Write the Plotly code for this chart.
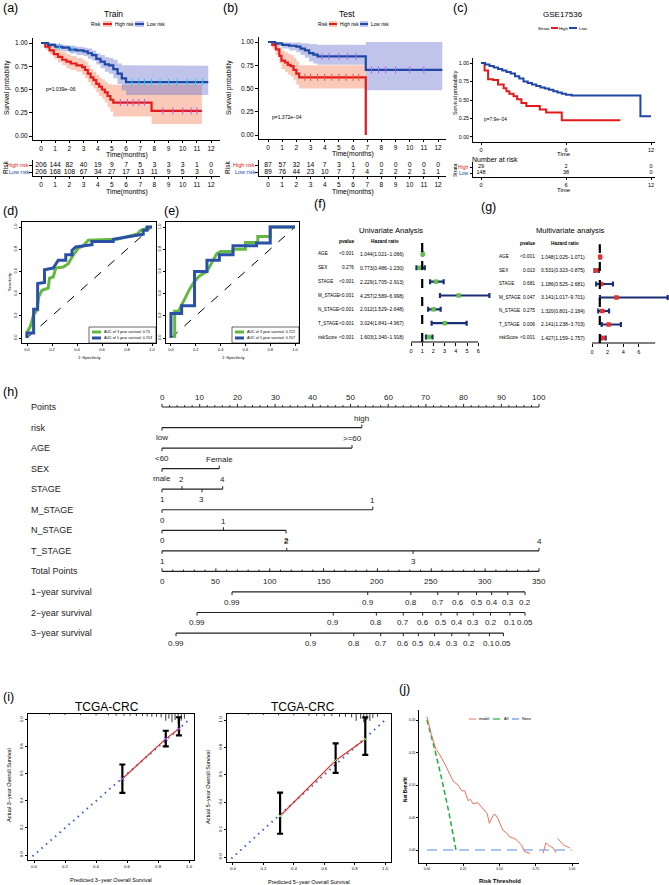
import plotly.graph_objects as go

W, H = 669, 885
FONT = "Liberation Sans, Arial, Helvetica, sans-serif"
RED = "#E41A1C"
BLUE = "#1F48A6"
RED_CI = "rgba(243,135,95,0.45)"
BLUE_CI = "rgba(105,115,205,0.42)"

# ====================== DATA ======================
months = list(range(13))

# (a) Train
train_high_t = [0, 0.3, 0.6, 0.9, 1.2, 1.5, 1.8, 2.1, 2.5, 2.9, 3.1, 3.3, 3.5, 3.7, 3.9, 4.1, 4.3, 4.5, 4.7, 4.9, 5.1, 7.8, 11.35]
train_high_s = [1, 0.96, 0.92, 0.88, 0.85, 0.82, 0.80, 0.78, 0.76, 0.74, 0.71, 0.67, 0.63, 0.60, 0.56, 0.53, 0.50, 0.47, 0.43, 0.39, 0.36, 0.27, 0.27]
train_high_up = [1, 1, 0.99, 0.96, 0.93, 0.90, 0.88, 0.86, 0.84, 0.82, 0.80, 0.76, 0.72, 0.69, 0.66, 0.63, 0.61, 0.58, 0.56, 0.55, 0.55, 0.55, 0.55]
train_high_lo = [1, 0.93, 0.88, 0.83, 0.79, 0.76, 0.73, 0.71, 0.69, 0.66, 0.62, 0.58, 0.54, 0.51, 0.47, 0.43, 0.40, 0.36, 0.31, 0.26, 0.21, 0.13, 0.13]
train_high_cens = [5.6, 6.1, 6.5, 6.9, 7.3, 8.6, 9.3, 10.0, 10.6, 11.0]
train_low_t = [0, 0.5, 1, 1.5, 2, 2.5, 3, 3.3, 3.6, 3.9, 4.2, 4.5, 4.8, 5.1, 5.4, 5.7, 6.0, 11.8]
train_low_s = [1, 0.98, 0.96, 0.95, 0.93, 0.92, 0.91, 0.89, 0.87, 0.83, 0.80, 0.77, 0.76, 0.72, 0.67, 0.62, 0.58, 0.58]
train_low_up = [1, 1, 0.99, 0.98, 0.97, 0.96, 0.95, 0.94, 0.92, 0.89, 0.87, 0.85, 0.84, 0.82, 0.78, 0.76, 0.755, 0.755]
train_low_lo = [1, 0.96, 0.93, 0.91, 0.89, 0.87, 0.86, 0.83, 0.81, 0.77, 0.73, 0.69, 0.67, 0.62, 0.56, 0.49, 0.44, 0.44]
train_low_cens = [1.3, 2.2, 6.4, 6.9, 7.3, 7.8, 8.4, 9.0, 9.6, 10.3, 10.9, 11.4]
train_high_n = [206, 144, 82, 40, 19, 9, 7, 5, 3, 3, 3, 1, 0]
train_low_n = [206, 168, 108, 67, 34, 27, 17, 13, 11, 9, 5, 3, 0]

# (b) Test
test_high_t = [0, 0.3, 0.55, 0.8, 0.95, 1.2, 1.4, 1.6, 1.8, 2.0, 2.2, 6.9]
test_high_s = [1, 0.97, 0.92, 0.85, 0.80, 0.78, 0.755, 0.74, 0.70, 0.66, 0.62, 0.0]
test_high_up = [1, 1, 0.99, 0.95, 0.91, 0.89, 0.87, 0.86, 0.83, 0.79, 0.75, 0.75]
test_high_lo = [1, 0.93, 0.86, 0.77, 0.71, 0.68, 0.65, 0.63, 0.59, 0.54, 0.50, 0.50]
test_high_cens = [2.6, 3.0, 3.5, 4.0, 4.5, 5.0, 5.5, 6.0, 6.4]
test_low_t = [0, 0.5, 1.0, 1.5, 2.0, 2.3, 2.6, 2.9, 3.2, 3.5, 6.9, 12.3]
test_low_s = [1, 0.985, 0.97, 0.96, 0.95, 0.93, 0.91, 0.88, 0.865, 0.845, 0.70, 0.70]
test_low_up = [1, 1, 1, 1, 0.995, 0.99, 0.985, 0.98, 0.975, 0.97, 1.0, 1.0]
test_low_lo = [1, 0.96, 0.93, 0.91, 0.89, 0.86, 0.83, 0.79, 0.77, 0.755, 0.48, 0.48]
test_low_cens = [3.8, 4.3, 5.0, 5.6, 6.2, 7.3, 7.8, 8.3, 9.0, 10.0, 11.0]
test_high_n = [87, 57, 32, 14, 7, 3, 1, 0, 0, 0, 0, 0, 0]
test_low_n = [89, 76, 44, 23, 10, 7, 7, 4, 2, 2, 2, 1, 1]

# (c) GSE17536
gse_high_t = [0, 0.25, 0.5, 0.85, 1.2, 1.6, 1.8, 2.0, 2.3, 2.55, 2.85, 3.2, 4.15, 4.6, 5.7, 9.83]
gse_high_s = [1, 0.90, 0.78, 0.77, 0.71, 0.66, 0.62, 0.585, 0.55, 0.51, 0.46, 0.42, 0.37, 0.33, 0.225, 0.225]
gse_low_t = [0, 0.3, 0.6, 0.9, 1.2, 1.5, 1.8, 2.1, 2.4, 2.7, 3.0, 3.3, 3.6, 3.9, 4.2, 4.5, 4.8, 5.1, 5.4, 5.7, 6.0, 6.4, 11.25, 12.0]
gse_low_s = [1, 0.98, 0.96, 0.94, 0.92, 0.90, 0.88, 0.86, 0.82, 0.79, 0.75, 0.73, 0.71, 0.69, 0.67, 0.655, 0.64, 0.62, 0.60, 0.585, 0.57, 0.56, 0.28, 0.28]
gse_times = [0, 6, 12]
gse_high_n = [29, 2, 0]
gse_low_n = [148, 38, 0]

# (d),(e) ROC
roc_d_3_fpr = [0, 0, 0.027, 0.053, 0.08, 0.093, 0.12, 0.17, 0.18, 0.21, 0.23, 0.29, 0.33, 0.36, 0.41, 0.45, 0.49, 0.72, 0.88, 0.91, 1.0]
roc_d_3_tpr = [0, 0.05, 0.105, 0.21, 0.25, 0.37, 0.43, 0.45, 0.54, 0.55, 0.63, 0.64, 0.67, 0.73, 0.81, 0.83, 0.88, 0.89, 0.935, 0.97, 1.0]
roc_d_5_fpr = [0, 0, 0.053, 0.053, 0.085, 0.085, 0.14, 0.14, 0.21, 0.25, 0.31, 0.31, 0.36, 0.36, 0.39, 0.52, 0.52, 0.69, 0.69, 0.8, 0.93, 0.93, 0.96, 0.96, 1.0]
roc_d_5_tpr = [0, 0.045, 0.045, 0.26, 0.26, 0.49, 0.50, 0.615, 0.63, 0.70, 0.70, 0.75, 0.75, 0.79, 0.82, 0.84, 0.87, 0.87, 0.89, 0.91, 0.935, 0.97, 0.97, 1.0, 1.0]
roc_e_3_fpr = [0.03, 0.03, 0.06, 0.08, 0.11, 0.15, 0.19, 0.23, 0.29, 0.37, 0.40, 0.50, 0.50, 0.60, 0.60, 0.70, 0.70, 0.80, 0.80, 1.0]
roc_e_3_tpr = [0, 0.24, 0.24, 0.28, 0.35, 0.44, 0.51, 0.56, 0.60, 0.76, 0.78, 0.78, 0.80, 0.80, 0.86, 0.86, 0.915, 0.915, 1.0, 1.0]
roc_e_5_fpr = [0, 0, 0.086, 0.086, 0.19, 0.19, 0.29, 0.29, 0.39, 0.39, 0.50, 0.50, 0.69, 0.69, 0.80, 0.80, 1.0]
roc_e_5_tpr = [0, 0.22, 0.22, 0.29, 0.29, 0.60, 0.60, 0.70, 0.70, 0.75, 0.75, 0.83, 0.83, 0.855, 0.855, 1.0, 1.0]
auc_d = ["0.73", "0.703"]
auc_e = ["0.722", "0.707"]

# (f),(g) Cox
cox_vars = ["AGE", "SEX", "STAGE", "M_STAGE", "N_STAGE", "T_STAGE", "riskScore"]
uni_p = ["<0.001", "0.276", "<0.001", "<0.001", "<0.001", "<0.001", "<0.001"]
uni_hr = [1.044, 0.773, 2.229, 4.257, 2.012, 3.024, 1.603]
uni_lo = [1.021, 0.486, 1.705, 2.589, 1.529, 1.841, 1.340]
uni_hi = [1.066, 1.230, 2.913, 6.998, 2.648, 4.967, 1.918]
multi_p = ["<0.001", "0.013", "0.681", "0.047", "0.275", "0.006", "<0.001"]
multi_hr = [1.048, 0.531, 1.186, 3.141, 1.320, 2.141, 1.427]
multi_lo = [1.025, 0.323, 0.525, 1.017, 0.801, 1.238, 1.159]
multi_hi = [1.071, 0.875, 2.681, 9.701, 2.184, 3.703, 1.757]

# (h) nomogram (positions in points / total points)
nomo_rows = ["Points", "risk", "AGE", "SEX", "STAGE", "M_STAGE", "N_STAGE", "T_STAGE",
             "Total Points", "1\u2212year survival", "2\u2212year survival", "3\u2212year survival"]
risk_pts, risk_lbl = [0, 53], ["low", "high"]
age_pts, age_lbl = [0, 50.4], ["<60", ">=60"]
sex_pts, sex_lbl = [0, 15.2], ["male", "Female"]
stage_pts, stage_lbl = [0, 5.3, 10.6, 16.1], ["1", "2", "3", "4"]
mstage_pts, mstage_lbl = [0, 55.9], ["0", "1"]
nstage_pts, nstage_lbl = [0, 16.3, 32.9], ["0", "1", "2"]
tstage_pts, tstage_lbl = [0, 33.1, 66.6, 100], ["1", "2", "3", "4"]
points_ticks = list(range(0, 101, 10))
total_ticks = list(range(0, 351, 50))
surv1_tp = [65, 191, 231, 256, 275, 292, 306, 321, 337]
surv1_lbl = ["0.99", "0.9", "0.8", "0.7", "0.6", "0.5", "0.4", "0.3", "0.2"]
surv2_tp = [32.5, 159, 199, 224, 242, 259, 274, 289, 305, 323, 337]
surv2_lbl = ["0.99", "0.9", "0.8", "0.7", "0.6", "0.5", "0.4", "0.3", "0.2", "0.1", "0.05"]
surv3_tp = [13, 138, 178, 203, 224, 238, 253, 269, 285, 304, 317]
surv3_lbl = ["0.99", "0.9", "0.8", "0.7", "0.6", "0.5", "0.4", "0.3", "0.2", "0.1", "0.05"]

# (i) calibration
cal3_pred = [0.57, 0.85, 0.935]
cal3_obs = [0.565, 0.86, 0.935]
cal3_lo = [0.46, 0.805, 0.885]
cal3_hi = [0.67, 0.92, 1.02]
cal3_rug_x = [0.10, 0.2, 0.3, 0.4, 0.48, 0.53, 0.58, 0.62, 0.66, 0.70, 0.73, 0.76, 0.79, 0.82, 0.85, 0.87, 0.89, 0.91, 0.93, 0.95, 0.97]
cal3_rug_h = [0.008, 0.008, 0.008, 0.01, 0.01, 0.012, 0.012, 0.012, 0.015, 0.015, 0.018, 0.02, 0.02, 0.025, 0.05, 0.035, 0.06, 0.045, 0.07, 0.05, 0.035]
cal5_pred = [0.31, 0.675, 0.87]
cal5_obs = [0.30, 0.705, 0.86]
cal5_lo = [0.17, 0.615, 0.745]
cal5_hi = [0.47, 0.83, 1.02]
cal5_rug_x = [0.1, 0.2, 0.3, 0.4, 0.5, 0.55, 0.6, 0.65, 0.7, 0.74, 0.78, 0.81, 0.84, 0.86, 0.88, 0.9, 0.92, 0.95]
cal5_rug_h = [0.008, 0.008, 0.01, 0.01, 0.012, 0.012, 0.015, 0.015, 0.02, 0.02, 0.025, 0.05, 0.035, 0.06, 0.045, 0.05, 0.03, 0.02]

# (j) decision curve
dca_thr = [0.0, 0.03, 0.062, 0.09, 0.124, 0.15, 0.18, 0.214, 0.239, 0.26, 0.283, 0.30, 0.317, 0.35, 0.375, 0.40, 0.415, 0.43, 0.455, 0.47, 0.49, 0.505, 0.524, 0.55, 0.57, 0.60, 0.62, 0.65, 0.676, 0.71,
           0.75, 0.80, 0.82, 0.835, 0.87, 0.89, 0.895, 0.90, 0.94, 0.985]
dca_model = [0.205, 0.178, 0.155, 0.146, 0.132, 0.121, 0.106, 0.100, 0.091, 0.091, 0.076, 0.078, 0.071, 0.073, 0.067, 0.061, 0.056, 0.041, 0.053, 0.055, 0.048, 0.040, 0.030, 0.026, 0.020, 0.018, 0.015, 0.008, -0.003, -0.005,
             None, -0.005, 0.011, 0.008, 0.003, -0.004, None, 0.018, 0.008, 0.003]
dca_all_thr = [0.0, 0.05, 0.10, 0.15, 0.20]
dca_all = [0.20, 0.158, 0.111, 0.059, 0.0]
dca_none_thr = [0.0, 1.0]
dca_none = [0.0, 0.0]

# ====================== HELPERS ======================
fig = go.Figure()
axes_layout = {}
annotations = []
shapes = []
n_ax = [0]


def add_axes(box, xr, yr, xkw=None, ykw=None):
    n_ax[0] += 1
    k = n_ax[0]
    sfx = "" if k == 1 else str(k)
    x0, y0, x1, y1 = box
    base = dict(showgrid=False, zeroline=False, fixedrange=True, showline=False,
                ticks="", showticklabels=False)
    xa = dict(base, domain=[x0 / W, x1 / W], range=xr, anchor="y" + sfx)
    ya = dict(base, domain=[1 - y1 / H, 1 - y0 / H], range=yr, anchor="x" + sfx)
    if xkw:
        xa.update(xkw)
    if ykw:
        ya.update(ykw)
    axes_layout["xaxis" + sfx] = xa
    axes_layout["yaxis" + sfx] = ya
    return "x" + sfx, "y" + sfx


def vis(tickvals, ticktext=None, size=6.5, ticklen=3, angle=None, mirror=False, lw=1, line=True):
    d = dict(showline=line, linecolor="black", linewidth=lw, ticks="outside", ticklen=ticklen,
             tickwidth=1, tickcolor="black", showticklabels=True, tickvals=tickvals,
             tickfont=dict(size=size, color="black", family=FONT))
    if ticktext is not None:
        d["ticktext"] = ticktext
    if angle is not None:
        d["tickangle"] = angle
    if mirror:
        d["mirror"] = True
    return d


def txt(x, y, s, size=7, xa="center", ya="middle", color="black", angle=0, xref="paper", yref="paper", bold=False):
    if xref == "paper":
        x = x / W
    if yref == "paper":
        y = 1 - y / H
    if bold:
        s = "<b>" + s + "</b>"
    annotations.append(dict(x=x, y=y, xref=xref, yref=yref, text=s, showarrow=False,
                            xanchor=xa, yanchor=ya, textangle=angle, borderpad=0,
                            font=dict(size=size, color=color, family=FONT)))


def pline(x0, y0, x1, y1, color="black", width=1, dash="solid"):
    shapes.append(dict(type="line", xref="paper", yref="paper", x0=x0 / W, x1=x1 / W,
                       y0=1 - y0 / H, y1=1 - y1 / H, line=dict(color=color, width=width, dash=dash)))


def prect(x0, y0, x1, y1, fill, line_color=None, lw=0):
    shapes.append(dict(type="rect", xref="paper", yref="paper", x0=x0 / W, x1=x1 / W,
                       y0=1 - y1 / H, y1=1 - y0 / H, fillcolor=fill,
                       line=dict(color=line_color or "rgba(0,0,0,0)", width=lw)))


def step_xy(t, s):
    xs, ys = [], []
    for i, (ti, si) in enumerate(zip(t, s)):
        if i:
            xs.append(ti)
            ys.append(s[i - 1])
        xs.append(ti)
        ys.append(si)
    return xs, ys


def step_at(t, s, x):
    v = s[0]
    for ti, si in zip(t, s):
        if ti <= x:
            v = si
    return v


def km(xa, ya, groups, width=2.2):
    for g in groups:
        if "up" in g:
            ux, uy = step_xy(g["t"], g["up"])
            lx, ly = step_xy(g["t"], g["lo"])
            fig.add_trace(go.Scatter(x=ux + lx[::-1], y=uy + ly[::-1], fill="toself", fillcolor=g["ci"],
                                     mode="lines", line=dict(width=0), xaxis=xa, yaxis=ya, hoverinfo="skip"))
    for g in groups:
        fig.add_trace(go.Scatter(x=g["t"], y=g["s"], mode="lines", line=dict(shape="hv", color=g["col"], width=width),
                                 xaxis=xa, yaxis=ya))
        if g.get("cens"):
            fig.add_trace(go.Scatter(x=g["cens"], y=[step_at(g["t"], g["s"], c) for c in g["cens"]], mode="markers",
                                     marker=dict(symbol="line-ns-open", size=5, line=dict(color=g["col"], width=1)),
                                     xaxis=xa, yaxis=ya))


yt_km = [0, 0.25, 0.5, 0.75, 1]
yt_km_txt = ["0.00", "0.25", "0.50", "0.75", "1.00"]
tbl_y = dict(showline=True, linecolor="black", linewidth=1, ticks="outside",
             ticklen=3, tickvals=[0, 1], tickcolor="black")

# ====================== (a) Train ======================
xa, ya = add_axes((33, 38, 220, 140), [-0.565, 12.63], [-0.043, 1.054],
                  vis(months, None, 6.5, 2), vis(yt_km, yt_km_txt, 6.5))
km(xa, ya, [dict(t=train_high_t, s=train_high_s, up=train_high_up, lo=train_high_lo, ci=RED_CI, col=RED, cens=train_high_cens),
            dict(t=train_low_t, s=train_low_s, up=train_low_up, lo=train_low_lo, ci=BLUE_CI, col=BLUE, cens=train_low_cens)])
txt(113, 14, "Train", 8.5)
txt(90, 24, "Risk", 4.8, xa="left")
prect(103, 21, 112, 27, RED_CI)
pline(103, 24, 112, 24, RED, 2)
txt(114, 24, "High risk", 4.8, xa="left")
prect(135, 21, 144, 27, BLUE_CI)
pline(135, 24, 144, 24, BLUE, 2)
txt(146, 24, "Low risk", 4.8, xa="left")
txt(45, 89, "p=1.039e\u221206", 5, xa="left")
txt(7, 88, "Survival probability", 6.5, angle=-90)
txt(127, 155, "Time(months)", 6.8)
xr_, yr_ = add_axes((33, 160, 220, 176), [-0.565, 12.63], [-0.571, 1.714],
                    vis(months, None, 6.5, 2), tbl_y)
fig.add_trace(go.Scatter(x=months, y=[1] * 13, mode="text", text=[str(v) for v in train_high_n],
                         textfont=dict(size=6.8, color="black", family=FONT), xaxis=xr_, yaxis=yr_))
fig.add_trace(go.Scatter(x=months, y=[0] * 13, mode="text", text=[str(v) for v in train_low_n],
                         textfont=dict(size=6.8, color="black", family=FONT), xaxis=xr_, yaxis=yr_))
txt(30, 165, "High risk", 5.5, xa="right", color=RED)
txt(30, 172, "Low risk", 5.5, xa="right", color=BLUE)
txt(5, 168, "Risk", 6.5, angle=-90)
txt(127, 192, "Time(months)", 6.8)

# ====================== (b) Test ======================
xb, yb = add_axes((259, 37, 446, 139), [-0.635, 12.56], [-0.043, 1.054],
                  vis(months, None, 6.5, 2), vis(yt_km, yt_km_txt, 6.5))
km(xb, yb, [dict(t=test_high_t, s=test_high_s, up=test_high_up, lo=test_high_lo, ci=RED_CI, col=RED, cens=test_high_cens),
            dict(t=test_low_t, s=test_low_s, up=test_low_up, lo=test_low_lo, ci=BLUE_CI, col=BLUE, cens=test_low_cens)])
txt(347, 14, "Test", 8.5)
txt(317, 24, "Risk", 4.8, xa="left")
prect(329, 21, 337, 27, RED_CI)
pline(329, 24, 337, 24, RED, 2)
txt(339, 24, "High risk", 4.8, xa="left")
prect(360, 21, 368, 27, BLUE_CI)
pline(360, 24, 368, 24, BLUE, 2)
txt(370, 24, "Low risk", 4.8, xa="left")
txt(271, 117, "p=1.372e\u221204", 5, xa="left")
txt(229, 88, "Survival probability", 6.5, angle=-90)
txt(353, 154, "Time(months)", 6.8)
xbr, ybr = add_axes((259, 160, 446, 176), [-0.635, 12.56], [-0.571, 1.714],
                    vis(months, None, 6.5, 2), tbl_y)
fig.add_trace(go.Scatter(x=months, y=[1] * 13, mode="text", text=[str(v) for v in test_high_n],
                         textfont=dict(size=6.8, color="black", family=FONT), xaxis=xbr, yaxis=ybr))
fig.add_trace(go.Scatter(x=months, y=[0] * 13, mode="text", text=[str(v) for v in test_low_n],
                         textfont=dict(size=6.8, color="black", family=FONT), xaxis=xbr, yaxis=ybr))
txt(256, 165, "High risk", 5.5, xa="right", color=RED)
txt(256, 172, "Low risk", 5.5, xa="right", color=BLUE)
txt(227, 168, "Risk", 6.5, angle=-90)
txt(353, 192, "Time(months)", 6.8)

# ====================== (c) GSE17536 ======================
xc, yc = add_axes((473, 58, 655, 142), [-0.565, 12.28], [-0.068, 1.068],
                  vis(gse_times, None, 5.5, 2), vis(yt_km, yt_km_txt, 5.2, 2))
km(xc, yc, [dict(t=gse_high_t, s=gse_high_s, col=RED), dict(t=gse_low_t, s=gse_low_s, col=BLUE)], width=2)
txt(563, 15, "GSE17536", 8)
txt(537, 28, "Strata", 4.3, xa="left")
pline(551, 28, 558, 28, RED, 2)
txt(558, 28, "High", 4.3, xa="left")
pline(569, 28, 577, 28, BLUE, 2)
txt(578, 28, "Low", 4.3, xa="left")
txt(483, 119, "p=7.9e\u221204", 4.8, xa="left")
txt(455, 93, "Survival probability", 5.3, angle=-90)
txt(564, 154, "Time", 6)
txt(471, 159, "Number at risk", 7, xa="left")
xcr, ycr = add_axes((473, 162, 655, 177), [-0.565, 12.28], [-0.667, 1.833],
                    vis(gse_times, None, 5.5, 2), dict(tbl_y, ticklen=2))
fig.add_trace(go.Scatter(x=gse_times, y=[1] * 3, mode="text", text=[str(v) for v in gse_high_n],
                         textfont=dict(size=5.5, color="black", family=FONT), xaxis=xcr, yaxis=ycr))
fig.add_trace(go.Scatter(x=gse_times, y=[0] * 3, mode="text", text=[str(v) for v in gse_low_n],
                         textfont=dict(size=5.5, color="black", family=FONT), xaxis=xcr, yaxis=ycr))
txt(470, 167, "High", 5, xa="right", color=RED)
txt(470, 172.5, "Low", 5, xa="right", color=BLUE)
txt(455, 170, "Strata", 5, angle=-90)
txt(564, 189.5, "Time", 6)

# ====================== (d),(e) ROC ======================
GREEN = "#63B93F"
ROCBLUE = "#2A50A8"
roc_t = [0, 0.2, 0.4, 0.6, 0.8, 1.0]
roc_tt = ["0.0", "0.2", "0.4", "0.6", "0.8", "1.0"]


def roc_panel(box, xr, curves, aucs, leg_box, lab_x):
    xa_, ya_ = add_axes(box, xr, [-0.045, 1.045],
                        vis(roc_t, roc_tt, 4, 2, mirror=True),
                        vis(roc_t, roc_tt, 4, 2, angle=-90, mirror=True))
    fig.add_trace(go.Scatter(x=[0, 1], y=[0, 1], mode="lines", line=dict(color="black", width=1, dash="dash"),
                             xaxis=xa_, yaxis=ya_))
    for (fx, fy), col in zip(curves, [GREEN, ROCBLUE]):
        fig.add_trace(go.Scatter(x=fx, y=fy, mode="lines", line=dict(color=col, width=3), xaxis=xa_, yaxis=ya_))
    lx0, ly0, lx1, ly1 = leg_box
    prect(lx0, ly0, lx1, ly1, "white", "black", 0.6)
    pline(lx0 + 3, ly0 + 5, lx0 + 12, ly0 + 5, GREEN, 3)
    pline(lx0 + 3, ly0 + 11, lx0 + 12, ly0 + 11, ROCBLUE, 3)
    txt(lx0 + 14, ly0 + 5, "AUC of 3 year survival: " + aucs[0], 3.7, xa="left")
    txt(lx0 + 14, ly0 + 11, "AUC of 5 year survival: " + aucs[1], 3.7, xa="left")
    txt(lab_x, 357, "1\u2212Specificity", 4)


roc_panel((22, 222, 156, 343), [-0.04, 1.032], [(roc_d_3_fpr, roc_d_3_tpr), (roc_d_5_fpr, roc_d_5_tpr)],
          auc_d, (89, 327, 156, 343), 89)
txt(9, 282, "Sensitivity", 4, angle=-90)
roc_panel((166, 222, 299, 343), [-0.04, 1.032], [(roc_e_3_fpr, roc_e_3_tpr), (roc_e_5_fpr, roc_e_5_tpr)],
          auc_e, (232, 327, 299, 343), 233)

# ====================== (f),(g) Forest ======================
NAVY = "#1C2E77"


def forest(box, xr, yr, hr, lo, hi, pv, col, tickvals, axis_end, names_x, p_x, hr_x, head_p, head_hr, title, title_xy):
    xa_, ya_ = add_axes(box, xr, yr,
                        dict(ticks="outside", ticklen=3, tickcolor="black", tickwidth=1, showticklabels=True,
                             tickvals=tickvals, tickfont=dict(size=5.5, color="black", family=FONT)), None)
    shapes.append(dict(type="line", xref=xa_, yref=ya_ + " domain", x0=0, x1=axis_end, y0=0, y1=0,
                       line=dict(color="black", width=1)))
    shapes.append(dict(type="line", xref=xa_, yref=ya_ + " domain", x0=1, x1=1, y0=0, y1=1.04,
                       line=dict(color="black", width=2.2, dash="dash")))
    rows = list(range(len(hr)))
    fig.add_trace(go.Scatter(x=hr, y=rows, mode="markers",
                             marker=dict(symbol="square", size=4.5, color=col),
                             error_x=dict(type="data", symmetric=False,
                                          array=[h - m for h, m in zip(hi, hr)],
                                          arrayminus=[m - l for m, l in zip(hr, lo)],
                                          color=NAVY, thickness=2.2, width=2.5),
                             xaxis=xa_, yaxis=ya_))
    for r, name, p, h, l, u in zip(rows, cox_vars, pv, hr, lo, hi):
        annotations.append(dict(x=names_x / W, y=r, xref="paper", yref=ya_, text=name, showarrow=False,
                                xanchor="left", yanchor="middle", font=dict(size=4.6, family=FONT, color="black")))
        annotations.append(dict(x=p_x / W, y=r, xref="paper", yref=ya_, text=p.replace("<", "&lt;"), showarrow=False,
                                xanchor="right", yanchor="middle", font=dict(size=4.8, family=FONT, color="black")))
        annotations.append(dict(x=hr_x / W, y=r, xref="paper", yref=ya_,
                                text=f"{h:.3f}({l:.3f}\u2212{u:.3f})", showarrow=False,
                                xanchor="left", yanchor="middle", font=dict(size=5, family=FONT, color="black")))
    txt(head_p[0], head_p[1], "pvalue", 4.8, bold=True)
    txt(head_hr[0], head_hr[1], "Hazard ratio", 4.8, bold=True)
    txt(title_xy[0], title_xy[1], title, 7.6)


forest((405, 245, 495, 342), [-0.536, 7.5], [6.36, -0.65], uni_hr, uni_lo, uni_hi, uni_p, "#62C04A",
       [0, 1, 2, 3, 4, 5, 6], 6, 316, 356, 358, (347, 241), (385, 241), "Univariate Analysis", (391, 230))
forest((588, 248, 669, 343), [-0.513, 9.87], [6.37, -0.667], multi_hr, multi_lo, multi_hi, multi_p, "#E8302A",
       [0, 2, 4, 6], 8.1, 497, 537, 539, (528, 243), (565, 243), "Multivariate analysis", (570, 230))

# ====================== (h) Nomogram ======================
xn, yn = add_axes((0, 380, 669, 660), [-42.97, 134.48], [12.31, -1.314])
NCOL = "#222222"
tick_up = 0.15
line_x, line_y, tk_x, tk_y = [], [], [], []


def seg(xs, ys, x0, y0, x1, y1):
    xs += [x0, x1, None]
    ys += [y0, y1, None]


for r, name in enumerate(nomo_rows):
    annotations.append(dict(x=-35.3, y=r, xref=xn, yref=yn, text=name, showarrow=False, xanchor="left",
                            yanchor="middle", font=dict(size=9, family=FONT, color=NCOL)))

# Points axis
seg(line_x, line_y, 0, 0, 100, 0)
for p in range(0, 101, 2):
    seg(tk_x, tk_y, p, 0, p, -(tick_up if p % 10 == 0 else tick_up * 0.6))
for p in points_ticks:
    annotations.append(dict(x=p, y=-0.45, xref=xn, yref=yn, text=str(p), showarrow=False,
                            font=dict(size=8, family=FONT, color=NCOL)))

var_rows = [(1, risk_pts, risk_lbl), (2, age_pts, age_lbl), (3, sex_pts, sex_lbl), (4, stage_pts, stage_lbl),
            (5, mstage_pts, mstage_lbl), (6, nstage_pts, nstage_lbl), (7, tstage_pts, tstage_lbl)]
for r, pts, lbls in var_rows:
    seg(line_x, line_y, min(pts), r, max(pts), r)
    for i, (p, l) in enumerate(zip(pts, lbls)):
        above = (i % 2 == 1)
        seg(tk_x, tk_y, p, r, p, r - tick_up if above else r + tick_up)
        annotations.append(dict(x=p, y=r - 0.45 if above else r + 0.5, xref=xn, yref=yn,
                                text=l.replace("<", "&lt;").replace(">", "&gt;"),
                                showarrow=False, font=dict(size=8, family=FONT, color=NCOL)))

# Total points axis (350 total points span the same width as 100 points)
tscale = points_ticks[-1] / total_ticks[-1]
seg(line_x, line_y, 0, 8, 100, 8)
for tp in range(0, 351, 10):
    seg(tk_x, tk_y, tp * tscale, 8, tp * tscale, 8 - (tick_up if tp % 50 == 0 else tick_up * 0.6))
for tp in total_ticks:
    annotations.append(dict(x=tp * tscale, y=8.5, xref=xn, yref=yn, text=str(tp), showarrow=False,
                            font=dict(size=8, family=FONT, color=NCOL)))

for r, tps, lbls in [(9, surv1_tp, surv1_lbl), (10, surv2_tp, surv2_lbl), (11, surv3_tp, surv3_lbl)]:
    seg(line_x, line_y, min(tps) * tscale, r, max(tps) * tscale, r)
    for tp, l in zip(tps, lbls):
        seg(tk_x, tk_y, tp * tscale, r, tp * tscale, r + tick_up)
        annotations.append(dict(x=tp * tscale, y=r + 0.5, xref=xn, yref=yn, text=l, showarrow=False,
                                font=dict(size=8, family=FONT, color=NCOL)))

fig.add_trace(go.Scatter(x=line_x, y=line_y, mode="lines", line=dict(color=NCOL, width=1.2), xaxis=xn, yaxis=yn))
fig.add_trace(go.Scatter(x=tk_x, y=tk_y, mode="lines", line=dict(color=NCOL, width=1), xaxis=xn, yaxis=yn))

# ====================== (i) Calibration ======================
CALBLUE = "#3A62D0"
cal_t = [0, 0.2, 0.4, 0.6, 0.8, 1.0]
cal_tt = ["0.0", "0.2", "0.4", "0.6", "0.8", "1.0"]


def cal_panel(box, xr, yr, pred, obs, lo, hi, rx, rh):
    xa_, ya_ = add_axes(box, xr, yr, vis(cal_t, cal_tt, 4.3, 2, mirror=True),
                        vis(cal_t, cal_tt, 4.3, 2, angle=-90, mirror=True))
    fig.add_trace(go.Scatter(x=[-0.01, 1.0], y=[-0.01, 1.0], mode="lines",
                             line=dict(color=CALBLUE, width=2, dash="1.5px,4.5px"), xaxis=xa_, yaxis=ya_))
    rug_x, rug_y = [], []
    for x, h in zip(rx, rh):
        rug_x += [x, x, None]
        rug_y += [yr[1], yr[1] - h, None]
    fig.add_trace(go.Scatter(x=rug_x, y=rug_y, mode="lines", line=dict(color="black", width=0.8), xaxis=xa_, yaxis=ya_))
    fig.add_trace(go.Scatter(x=pred, y=obs, mode="lines", line=dict(color="#E8302A", width=1.2), xaxis=xa_, yaxis=ya_))
    fig.add_trace(go.Scatter(x=pred, y=obs, mode="markers",
                             marker=dict(symbol="x-thin-open", size=4, line=dict(color=CALBLUE, width=1)),
                             error_y=dict(type="data", symmetric=False,
                                          array=[h - o for h, o in zip(hi, obs)],
                                          arrayminus=[o - l for o, l in zip(obs, lo)],
                                          color="black", thickness=2.2, width=3),
                             xaxis=xa_, yaxis=ya_))


cal_panel((28, 714, 194, 860), [-0.0387, 1.032], [-0.037, 1.044], cal3_pred, cal3_obs, cal3_lo, cal3_hi, cal3_rug_x, cal3_rug_h)
cal_panel((227, 714, 391, 862), [-0.039, 1.039], [-0.036, 1.044], cal5_pred, cal5_obs, cal5_lo, cal5_hi, cal5_rug_x, cal5_rug_h)
txt(107, 707, "TCGA-CRC", 12)
txt(303, 707, "TCGA-CRC", 12)
txt(111, 880, "Predicted 3\u2212year Overall Survival", 5.5)
txt(9, 785, "Actual 3\u2212year Overall Survival", 5.5, angle=-90)
txt(309, 882, "Predicted 5\u2212year Overall Survival", 5.5)
txt(208, 787, "Actual 5\u2212year Overall Survival", 5.5, angle=-90)

# ====================== (j) DCA ======================
xj, yj = add_axes((419, 710, 579, 863), [-0.055, 1.048], [-0.02, 0.2154],
                  vis([0, 0.25, 0.5, 0.75, 1.0], ["0.00", "0.25", "0.50", "0.75", "1.00"], 3.3, 2),
                  vis([0, 0.05, 0.10, 0.15, 0.20], ["0.00", "0.05", "0.10", "0.15", "0.20"], 3.3, 2))
fig.add_trace(go.Scatter(x=dca_none_thr, y=dca_none, mode="lines", line=dict(color="#5B8FE8", width=1.2, dash="10px,6px"),
                         xaxis=xj, yaxis=yj))
fig.add_trace(go.Scatter(x=dca_all_thr, y=dca_all, mode="lines", line=dict(color="#1FAF3A", width=1.5, dash="5px,3px"),
                         xaxis=xj, yaxis=yj))
fig.add_trace(go.Scatter(x=dca_thr, y=dca_model, mode="lines", line=dict(color="#F0705E", width=1), connectgaps=False,
                         xaxis=xj, yaxis=yj))
pline(469, 719, 476, 719, "#F0705E", 1)
txt(478, 719, "model", 3.8, xa="left")
pline(493, 719, 500, 719, "#1FAF3A", 1.2, "dash")
txt(503, 719, "All", 3.8, xa="left")
pline(512, 719, 519, 719, "#5B8FE8", 1.2, "dash")
txt(521, 719, "None", 3.8, xa="left")
txt(405, 790, "Net Benefit", 4.7, angle=-90, bold=True)
txt(500, 881, "Risk Threshold", 5.8, bold=True)

# ====================== panel letters ======================
for s, x, y in [("(a)", 2, 8), ("(b)", 222, 8), ("(c)", 452, 8), ("(d)", 2, 211), ("(e)", 163, 211),
                ("(f)", 313, 204), ("(g)", 480, 207), ("(h)", 2, 392), ("(i)", 2, 697), ("(j)", 398, 689)]:
    txt(x, y, s, 12.5, xa="left")

fig.update_layout(width=W, height=H, margin=dict(l=0, r=0, t=0, b=0), paper_bgcolor="white",
                  plot_bgcolor="rgba(0,0,0,0)", showlegend=False, font=dict(family=FONT, color="black"),
                  annotations=annotations, shapes=shapes, **axes_layout)
fig.write_html("out.html")
